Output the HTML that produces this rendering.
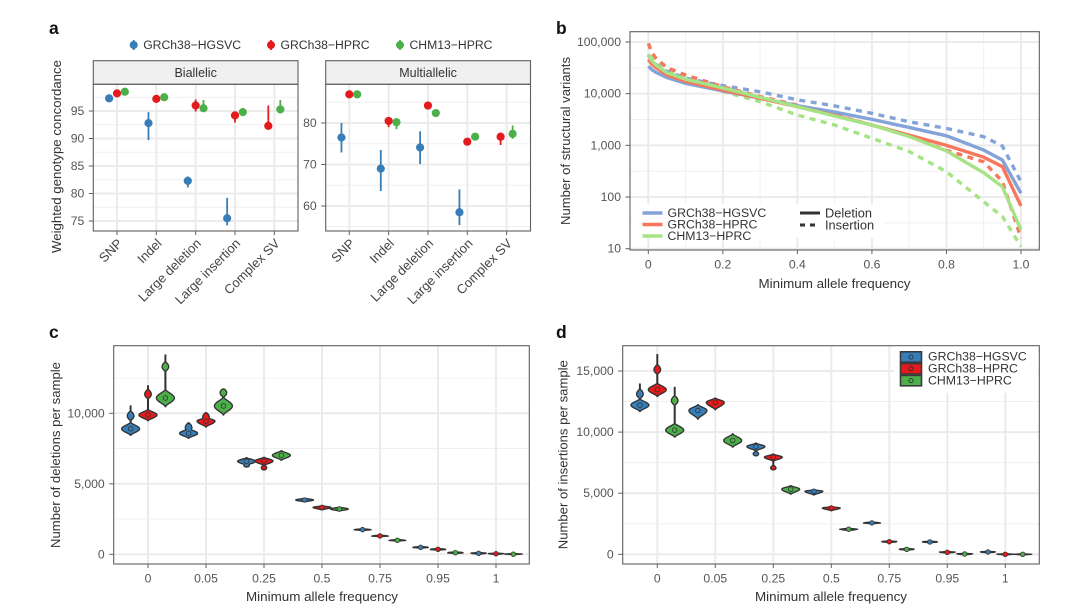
<!DOCTYPE html>
<html lang="en">
<head>
<meta charset="utf-8">
<title>Structural variant benchmarks</title>
<style>
html,body{margin:0;padding:0;background:#fff;width:1080px;height:613px;overflow:hidden}
svg{display:block;font-family:"Liberation Sans",sans-serif}
</style>
</head>
<body>
<svg id="fig" width="1080" height="613" viewBox="0 0 1080 613" xmlns="http://www.w3.org/2000/svg"></svg>
<script>
/* ---------- shared ---------- */
const refNames = ['GRCh38\u2212HGSVC', 'GRCh38\u2212HPRC', 'CHM13\u2212HPRC'];
const refColors = ['#377eb8', '#e41a1c', '#4daf4a'];
const lineColors = ['#84a3d8', '#f7775c', '#a5e384'];

/* ---------- panel a data ---------- */
const svTypes = ['SNP', 'Indel', 'Large deletion', 'Large insertion', 'Complex SV'];
const biTicks = [75, 80, 85, 90, 95];
const biMinor = [77.5, 82.5, 87.5, 92.5, 97.5];
const biMean = [[97.3, 92.8, 82.3, 75.5, null], [98.2, 97.2, 96, 94.2, 92.3], [98.5, 97.5, 95.5, 94.8, 95.3]];
const biLow = [[97.3, 89.7, 81.1, 74.2, null], [98.2, 97.2, 94.9, 92.9, 91.8], [98.5, 97.5, 94.9, 94.8, 94.6]];
const biHigh = [[97.3, 94.8, 83.1, 79.2, null], [98.2, 97.2, 97.1, 94.9, 96], [98.5, 97.5, 97, 94.8, 97]];
const multiTicks = [60, 70, 80];
const multiMinor = [55, 65, 75, 85];
const multiMean = [[76.5, 69, 74.1, 58.5, null], [86.9, 80.5, 84.2, 75.5, 76.7], [86.9, 80.2, 82.4, 76.7, 77.4]];
const multiLow = [[72.9, 63.6, 70.1, 55.4, null], [86.9, 79, 84.2, 75.5, 74.7], [86.9, 78.5, 82.4, 76.7, 76.2]];
const multiHigh = [[80, 73.5, 78, 64, null], [86.9, 80.5, 84.2, 75.5, 77.7], [86.9, 80.2, 82.4, 76.7, 79.4]];

/* ---------- panel b data ---------- */
const mafGrid = [0, 0.01, 0.02, 0.05, 0.1, 0.2, 0.3, 0.4, 0.5, 0.6, 0.7, 0.8, 0.9, 0.95, 1];
const svCountTicks = [10, 100, 1000, 10000, 100000];
const mafTicks = [0, 0.2, 0.4, 0.6, 0.8, 1];
const mafMinor = [0.1, 0.3, 0.5, 0.7, 0.9];
const hgsvcDel = [34000, 29000, 26000, 20500, 15800, 11300, 8200, 5850, 4400, 3180, 2220, 1530, 810, 520, 118];
const hprcDel = [46000, 37000, 32000, 23000, 17300, 11700, 8100, 5600, 3800, 2470, 1580, 1000, 590, 387, 67];
const chmDel = [58000, 43000, 36000, 25500, 19000, 12900, 8500, 5600, 3700, 2470, 1480, 780, 295, 158, 23];
const hgsvcIns = [56000, 43000, 37000, 27000, 20000, 14300, 10900, 7600, 5800, 4170, 2860, 2130, 1470, 970, 197];
const hprcIns = [94000, 62000, 49000, 32000, 23000, 13600, 8800, 6000, 3900, 2470, 1500, 800, 480, 200, 16];
const chmIns = [94000, 58000, 44000, 31000, 19800, 11000, 7000, 3860, 2470, 1370, 760, 310, 81, 42, 11];

/* ---------- panel c data ---------- */
const mafCats = ['0', '0.05', '0.25', '0.5', '0.75', '0.95', '1'];
const delTicks = [0, 5000, 10000];
const delMinor = [2500, 7500, 12500];
const delMedian = [[8900, 8580, 6600, 3850, 1750, 495, 70], [9880, 9450, 6620, 3330, 1300, 355, 40], [11085, 10520, 7020, 3210, 990, 115, 10]];
const delLow = [[8440, 8230, 6190, 3720, 1690, 440, 20], [9475, 9030, 5980, 3150, 1240, 300, 0], [10470, 9880, 6670, 3070, 930, 60, -30]];
const delHigh = [[10520, 9330, 6850, 3980, 1810, 550, 120], [11940, 10040, 6880, 3440, 1360, 410, 90], [14130, 11720, 7350, 3350, 1050, 170, 50]];
const delBlob = [[9810, 8980, 6300, null, null, null, null], [11350, 9715, 6140, null, null, null, null], [13300, 11460, null, null, null, null, null]];

/* ---------- panel d data ---------- */
const insTicks = [0, 5000, 10000, 15000];
const insMinor = [2500, 7500, 12500];
const insMedian = [[12210, 11770, 8820, 5160, 2570, 1010, 190], [13470, 12430, 7950, 3790, 1030, 165, 0], [10160, 9310, 5330, 2050, 410, 25, 0]];
const insLow = [[11690, 11070, 8060, 4850, 2500, 950, 130], [12920, 11830, 6910, 3560, 970, 110, -50], [9590, 8770, 4920, 1950, 350, -30, -50]];
const insHigh = [[13930, 12240, 9100, 5280, 2640, 1070, 250], [16340, 12790, 8200, 3900, 1090, 220, 50], [13660, 9860, 5620, 2130, 470, 80, 40]];
const insBlob = [[13110, null, 8220, null, null, null, null], [15110, null, 7070, null, null, null, null], [12570, null, null, null, null, null, null]];

/* ---------- helpers ---------- */
const svg = document.getElementById('fig');
const NS = 'http://www.w3.org/2000/svg';
function mk(tag, attrs, parent) {
  const e = document.createElementNS(NS, tag);
  for (const k in attrs) e.setAttribute(k, attrs[k]);
  (parent || svg).appendChild(e);
  return e;
}
function txt(parent, str, x, y, size, fill, anchor, extra) {
  const e = mk('text', Object.assign({x: x, y: y, 'font-size': size, fill: fill, 'text-anchor': anchor || 'start', 'dominant-baseline': 'central'}, extra || {}), parent);
  e.textContent = str;
  return e;
}
function lin(d0, d1, r0, r1) { return v => r0 + (v - d0) * (r1 - r0) / (d1 - d0); }
function grp(parent) { return mk('g', {}, parent); }
function slug(s) { return String(s).toLowerCase().replace(/[^a-z0-9]+/g, '-'); }
const fmt = v => v.toLocaleString('en-US');
const GRID = '#ebebeb', FRAME = '#5f5f5f', TICKTXT = '#555', TITLE = '#333';

function frame(g, L, T, R, B, yMajor, yMinor, xMajor, xMinor, yS, xS) {
  yMinor.forEach(v => { const l = mk('line', {x1: L, x2: R, y1: yS(v), y2: yS(v), stroke: '#f0f0f0', 'stroke-width': 1}, g);
    
     });
  xMinor.forEach(v => { const l = mk('line', {y1: T, y2: B, x1: xS(v), x2: xS(v), stroke: '#f0f0f0', 'stroke-width': 1}, g);
    
     });
  yMajor.forEach(v => { const l = mk('line', {x1: L, x2: R, y1: yS(v), y2: yS(v), stroke: GRID, 'stroke-width': 2}, g);
    
     });
  xMajor.forEach(v => { const l = mk('line', {y1: T, y2: B, x1: xS(v), x2: xS(v), stroke: GRID, 'stroke-width': 2}, g);
    
     });
}
function border(g, L, T, R, B) {
  const r = mk('rect', {x: L, y: T, width: R - L, height: B - T, fill: 'none', stroke: FRAME, 'stroke-width': 1.1}, g);
  
  
}
function yAxis(g, L, ticks, yS, size) {
  ticks.forEach(v => {
    const t = mk('line', {x1: L - 4.5, x2: L, y1: yS(v), y2: yS(v), stroke: FRAME, 'stroke-width': 1}, g);
    
    
    const s = txt(g, fmt(v), L - 9, yS(v), size || 12.2, TICKTXT, 'end');
    
    
  });
}
function xTicks(g, B, values, labels, xS) {
  values.forEach((v, i) => {
    const t = mk('line', {y1: B, y2: B + 4, x1: xS(v), x2: xS(v), stroke: FRAME, 'stroke-width': 1}, g);
    
    
    const s = txt(g, labels[i], xS(v), B + 14.5, 12.2, TICKTXT, 'middle');
    
    
  });
}
function panelLetter(str, x, y) {
  const s = txt(svg, str, x, y, 17.5, '#111', 'start', {'font-weight': 'bold'});
  
  
}
function axisTitleY(g, str, x, cy, len) {
  const s = txt(g, str, 0, 0, 12.5, TITLE, 'middle', {transform: 'translate(' + x + ' ' + cy + ') rotate(-90)', textLength: len, lengthAdjust: 'spacingAndGlyphs'});
  
  
}
function axisTitleX(g, str, cx, y, len) {
  const s = txt(g, str, cx, y, 12.5, TITLE, 'middle', {textLength: len, lengthAdjust: 'spacingAndGlyphs'});
  
  
}

/* ---------- panel a ---------- */
panelLetter('a', 49, 28);
function dotPanel(name, L, R, yS, ticks, minor, mean, low, high, firstX) {
  const T = 60.7, ST = 84.3, B = 231, step = 39.33;
  const g = grp(); 
  
  const xS = i => firstX + i * step;
  const idx = svTypes.map((_, i) => i);
  frame(g, L, ST, R, B, ticks, minor, idx, [], yS, xS);
  const st = mk('rect', {x: L, y: T, width: R - L, height: ST - T, fill: '#f0f0f0', stroke: FRAME, 'stroke-width': 1.1}, g);
  
  
  const stt = txt(g, name, (L + R) / 2, (T + ST) / 2 + 0.5, 12.5, TITLE, 'middle');
  
  
  svTypes.forEach((c, i) => {
    const present = [0, 1, 2].filter(r => mean[r][i] !== null);
    const gap = present.length === 3 ? 7.85 : 12;
    present.forEach((r, k) => {
      const x = xS(i) + (k - (present.length - 1) / 2) * gap;
      const ln = mk('line', {x1: x, x2: x, y1: yS(high[r][i]), y2: yS(low[r][i]), stroke: refColors[r], 'stroke-width': 1.8}, g);
      
      
      const dot = mk('circle', {cx: x, cy: yS(mean[r][i]), r: 4.1, fill: refColors[r]}, g);
      
      
    });
    const t = mk('line', {x1: xS(i), x2: xS(i), y1: B, y2: B + 4, stroke: FRAME, 'stroke-width': 1}, g);
    
    
    const s = txt(g, c, 0, 0, 13, '#444', 'end', {transform: 'translate(' + (xS(i) + 3) + ' ' + (B + 10) + ') rotate(-45)'});
    
    
  });
  border(g, L, ST, R, B);
  yAxis(g, L, ticks, yS);
  return g;
}
const gBi = dotPanel('Biallelic', 93.3, 298, lin(75, 95, 221, 111), biTicks, biMinor, biMean, biLow, biHigh, 117);
axisTitleY(gBi, 'Weighted genotype concordance', 57, 156.5, 193);
dotPanel('Multiallelic', 325.7, 530.5, lin(60, 80, 206, 123), multiTicks, multiMinor, multiMean, multiLow, multiHigh, 349.3);

const legA = grp();


const legAMark = [133.7, 271, 400];
refNames.forEach((n, i) => {
  const ln = mk('line', {x1: legAMark[i], x2: legAMark[i], y1: 40, y2: 50, stroke: refColors[i], 'stroke-width': 1.8}, legA);
  
  
  const c = mk('circle', {cx: legAMark[i], cy: 45, r: 4, fill: refColors[i]}, legA);
  
  
  const t = txt(legA, n, legAMark[i] + 9.5, 45, 12.2, TITLE, 'start');
  
  
});

/* ---------- panel b ---------- */
panelLetter('b', 556, 28);
(function () {
  const L = 630, R = 1039.3, T = 31.7, B = 250;
  const g = grp(); 
  
  const xS = lin(0, 1, 648.3, 1021);
  const logS = lin(1, 5, 248.7, 42);
  const yS = v => logS(Math.log10(v));
  const minor = [31.6, 316, 3162, 31623];
  frame(g, L, T, R, B, svCountTicks, minor, mafTicks, mafMinor, yS, xS);
  const bg = mk('rect', {x: 632, y: 204, width: 252, height: 34, fill: '#fff'}, g);
  
  
  const series = [
    [chmIns, 2, true, 'chm13-insertion'], [hgsvcIns, 0, true, 'hgsvc-insertion'], [hprcIns, 1, true, 'hprc-insertion'],
    [hgsvcDel, 0, false, 'hgsvc-deletion'], [hprcDel, 1, false, 'hprc-deletion'], [chmDel, 2, false, 'chm13-deletion']
  ];
  series.forEach(s => {
    const d = s[0].map((v, i) => (i ? 'L' : 'M') + xS(mafGrid[i]).toFixed(2) + ' ' + yS(v).toFixed(2)).join(' ');
    const attrs = {d: d, fill: 'none', stroke: lineColors[s[1]], 'stroke-width': 3.4};
    if (s[2]) attrs['stroke-dasharray'] = '6 5.5';
    const p = mk('path', attrs, g);
    
    
  });
  border(g, L, T, R, B);
  yAxis(g, L, svCountTicks, yS, 12.2);
  xTicks(g, B, mafTicks, ['0', '0.2', '0.4', '0.6', '0.8', '1.0'], xS);
  axisTitleY(g, 'Number of structural variants', 566, 141, 168);
  axisTitleX(g, 'Minimum allele frequency', 834.5, 284, 152);
  const ly = [213, 224.5, 236];
  refNames.forEach((n, i) => {
    const k = mk('line', {x1: 642.5, x2: 662.5, y1: ly[i], y2: ly[i], stroke: lineColors[i], 'stroke-width': 3.4}, g);
    
    
    const t = txt(g, n, 667.5, ly[i], 12.3, TITLE);
    
    
  });
  const k1 = mk('line', {x1: 800, x2: 820, y1: 213, y2: 213, stroke: '#333', 'stroke-width': 3}, g);
  
  
  const k2 = mk('line', {x1: 800, x2: 820, y1: 225, y2: 225, stroke: '#333', 'stroke-width': 3, 'stroke-dasharray': '5 5'}, g);
  
  
  const t1 = txt(g, 'Deletion', 825, 213, 12.8, TITLE);
  
  
  const t2 = txt(g, 'Insertion', 825, 225, 12.8, TITLE);
  
  
})();

/* ---------- violins ---------- */
function lobe(y, yC, up, down, w, pow) {
  const t = (y - yC) / (y < yC ? up : down);
  if (Math.abs(t) >= 1) return 0;
  return w * Math.pow(Math.cos(t * Math.PI / 2), pow);
}
function violinPath(cx, yS, med, low, high, blob) {
  const hw = 9, yM = yS(med), yH = yS(high), yL = yS(low);
  let bodyUp = yM - yH, bodyDown = yL - yM, yB = null, neck = 0.35, blobW = 0, blobUp = 0, blobDown = 0;
  if (blob !== null) {
    yB = yS(blob);
    if (blob > med) {
      bodyUp = Math.min(bodyDown, yM - yB);
      blobW = 3.3; blobDown = 4.5; blobUp = Math.min(5, yB - yH + 0.5);
    } else {
      bodyDown = Math.min(bodyUp + 1, yB - yM);
      blobW = 2.7; blobUp = 2.6; blobDown = Math.min(2.6, yL - yB + 0.5);
    }
  }
  const step = 0.5, prof = [];
  for (let y = yH; y < yL; y += step) {
    let w = Math.max(lobe(y, yM, bodyUp, bodyDown, hw, 1.5), 0.3);
    if (yB !== null) {
      w = Math.max(w, lobe(y, yB, blobUp, blobDown, blobW, 0.8));
      if ((blob > med && y > yB && y < yM) || (blob < med && y < yB && y > yM)) w = Math.max(w, neck);
    }
    prof.push([y, w]);
  }
  prof.push([yL, 0.3]);
  const right = prof.map(p => (cx + p[1]).toFixed(2) + ' ' + p[0].toFixed(2));
  const left = prof.slice().reverse().map(p => (cx - p[1]).toFixed(2) + ' ' + p[0].toFixed(2));
  return 'M' + right.concat(left).join(' L') + ' Z';
}
function violinPanel(panel, L, R, firstX, yS, ticks, minor, med, low, high, blob) {
  const T = 345.7, B = 564, step = 58, dodge = 17.4;
  const g = grp(); 
  
  const xS = i => firstX + i * step;
  const idx = mafCats.map((_, i) => i);
  frame(g, L, T, R, B, ticks, minor, idx, [], yS, xS);
  mafCats.forEach((c, i) => {
    [0, 1, 2].forEach(r => {
      const cx = xS(i) + (r - 1) * dodge;
      const p = mk('path', {d: violinPath(cx, yS, med[r][i], low[r][i], high[r][i], blob[r][i]), fill: refColors[r], stroke: '#333', 'stroke-width': 1.35, 'stroke-linejoin': 'round'}, g);
      
      
      const d = mk('circle', {cx: cx, cy: yS(med[r][i]), r: 2.3, fill: refColors[r], stroke: '#333', 'stroke-width': 0.8}, g);
      
      
    });
  });
  border(g, L, T, R, B);
  yAxis(g, L, ticks, yS);
  xTicks(g, B, idx, mafCats, xS);
  return g;
}
panelLetter('c', 49, 332);
const gC = violinPanel('c', 113.7, 529.3, 148, lin(0, 10000, 554.3, 413.3), delTicks, delMinor, delMedian, delLow, delHigh, delBlob);
axisTitleY(gC, 'Number of deletions per sample', 56, 455, 186);
axisTitleX(gC, 'Minimum allele frequency', 322, 597, 152);

panelLetter('d', 556, 332);
const gD = violinPanel('d', 622.7, 1039.3, 657.3, lin(0, 15000, 554.3, 371), insTicks, insMinor, insMedian, insLow, insHigh, insBlob);
axisTitleY(gD, 'Number of insertions per sample', 563.5, 454.7, 189);
axisTitleX(gD, 'Minimum allele frequency', 831, 597, 152);

const legD = grp(gD);


const legBg = mk('rect', {x: 894, y: 346.4, width: 144.5, height: 46.5, fill: '#fff'}, legD);


const legDY = [357, 368.8, 380.6];
refNames.forEach((n, i) => {
  const k = mk('rect', {x: 900.5, y: legDY[i] - 5.2, width: 21, height: 10.4, fill: refColors[i], stroke: '#3a3a3a', 'stroke-width': 1.6}, legD);
  
  
  const c = mk('circle', {cx: 911, cy: legDY[i], r: 2.1, fill: 'none', stroke: '#2b2b2b', 'stroke-width': 0.8}, legD);
  
  
  const t = txt(legD, n, 928, legDY[i] - 0.3, 12.3, TITLE);
  
  
});
</script>
</body>
</html>
